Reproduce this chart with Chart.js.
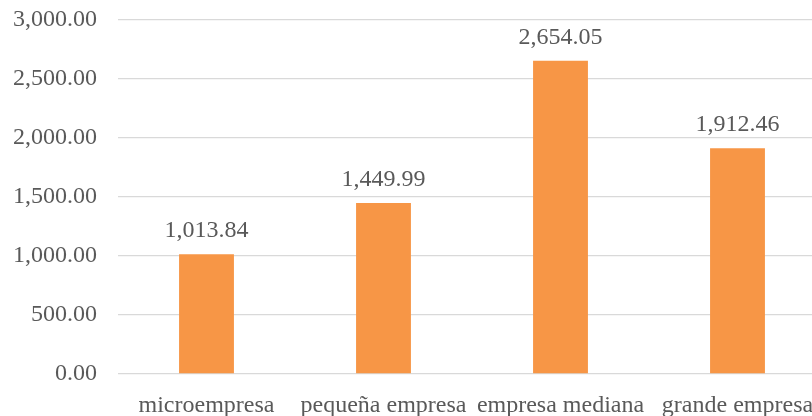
<!DOCTYPE html>
<html>
<head>
<meta charset="utf-8">
<script src="https://cdn.jsdelivr.net/npm/chart.js@4"></script>
<style>
  html, body { margin: 0; padding: 0; background: #fff; overflow: hidden; }
  #wrap { width: 826px; height: 416px; }
</style>
</head>
<body>
<div id="wrap"><canvas id="chart-canvas" width="826" height="416"></canvas></div>
<script>
const categories = ['microempresa', 'pequeña empresa', 'empresa mediana', 'grande empresa']
const values = [1013.84, 1449.99, 2654.05, 1912.46]

const textColor = '#595959'
const fontFamily = '"Liberation Serif", "Times New Roman", serif'

const fmt = v => Number(v).toLocaleString('en-US', { minimumFractionDigits: 2, maximumFractionDigits: 2 })

// value labels above every bar
const barLabels = {
  id: 'barLabels',
  afterDatasetsDraw (chart) {
    const ctx = chart.ctx
    const meta = chart.getDatasetMeta(0)
    ctx.save()
    ctx.font = '24px ' + fontFamily
    ctx.fillStyle = textColor
    ctx.textAlign = 'center'
    ctx.textBaseline = 'alphabetic'
    meta.data.forEach((bar, i) => {
      ctx.fillText(fmt(values[i]), bar.x, bar.y - 17)
    })
    ctx.restore()
  }
}

new Chart(document.getElementById('chart-canvas'), {
  type: 'bar',
  data: {
    labels: categories,
    datasets: [{
      data: values,
      backgroundColor: '#F79646',
      barPercentage: 0.31,
      categoryPercentage: 1
    }]
  },
  options: {
    responsive: false,
    animation: false,
    layout: { padding: { top: 20, right: 0, left: 0, bottom: 0 } },
    plugins: {
      legend: { display: false },
      tooltip: { enabled: false }
    },
    scales: {
      x: {
        grid: { display: false },
        border: { display: false },
        ticks: {
          color: textColor,
          font: { family: fontFamily, size: 24 },
          padding: 9,
          maxRotation: 0,
          autoSkip: false
        },
        afterFit (scale) { scale.height = 42 }
      },
      y: {
        min: 0,
        max: 3000,
        border: { display: false },
        grid: { color: '#d9d9d9', lineWidth: 1.3, drawTicks: false },
        ticks: {
          stepSize: 500,
          color: textColor,
          font: { family: fontFamily, size: 24 },
          padding: 21,
          callback: v => fmt(v)
        },
        afterFit (scale) {
          scale.width = 118
          scale.paddingTop = 0
          scale.paddingBottom = 0
        }
      }
    }
  },
  plugins: [barLabels]
})
</script>
</body>
</html>
